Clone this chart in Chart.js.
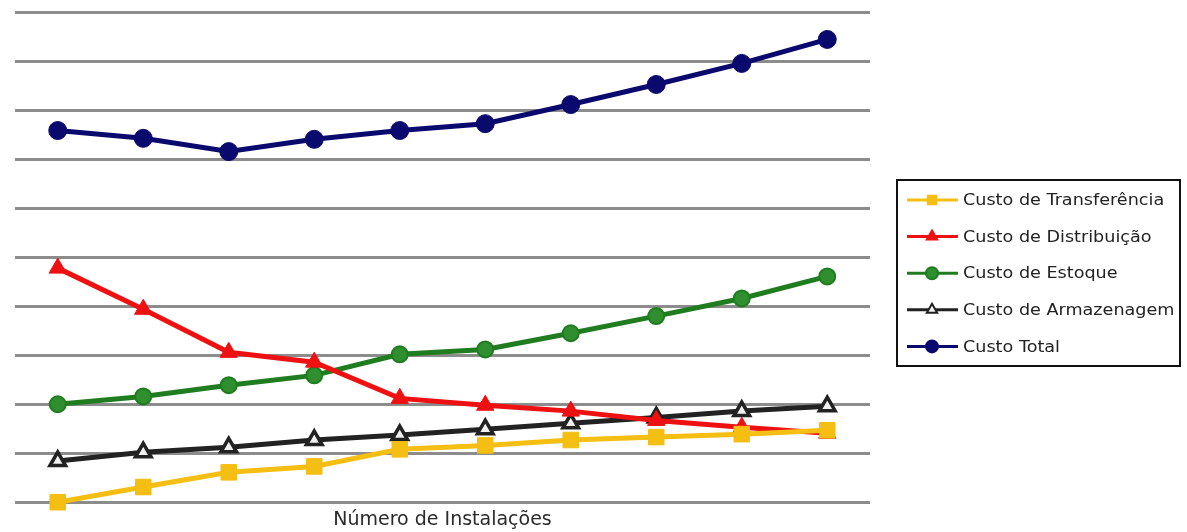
<!DOCTYPE html>
<html lang="pt">
<head>
  <meta charset="UTF-8">
  <title>Custos x Número de Instalações</title>
  <script src="https://cdn.jsdelivr.net/npm/chart.js"></script>
  <style>
    body { margin: 0; background: #fff; }
  </style>
</head>
<body>
  <div style="width: 1187px; height: 532px;">
    <canvas id="lineChart"></canvas>
  </div>

  <script>
    const instalacoes = ['1', '2', '3', '4', '5', '6', '7', '8', '9', '10'];
    const custoTransferencia = [0.0, 0.31, 0.61, 0.73, 1.08, 1.16, 1.27, 1.33, 1.39, 1.47];
    const custoDistribuicao = [4.78, 3.94, 3.06, 2.86, 2.12, 1.98, 1.86, 1.67, 1.53, 1.41];
    const custoEstoque = [2.0, 2.16, 2.39, 2.59, 3.02, 3.12, 3.45, 3.80, 4.16, 4.61];
    const custoArmazenagem = [0.84, 1.02, 1.12, 1.27, 1.37, 1.49, 1.61, 1.73, 1.86, 1.96];
    const custoTotal = [7.59, 7.43, 7.16, 7.41, 7.59, 7.73, 8.12, 8.53, 8.96, 9.45];
    const yTicks = [0, 1, 2, 3, 4, 5, 6, 7, 8, 9, 10];

    // legenda com linha + marcador, desenhada no canvas
    const legendaBox = {
      id: 'legendaBox',
      afterDraw(chart) {
        const ctx = chart.ctx;
        const x0 = 897, y0 = 180, w = 283, h = 186;
        ctx.save();
        ctx.strokeStyle = '#111';
        ctx.lineWidth = 2;
        ctx.strokeRect(x0, y0, w, h);
        chart.data.datasets.forEach((ds, i) => {
          const y = 200 + i * 36.6;
          ctx.strokeStyle = ds.borderColor;
          ctx.lineWidth = 3;
          ctx.beginPath();
          ctx.moveTo(907, y);
          ctx.lineTo(958, y);
          ctx.stroke();
          ctx.fillStyle = ds.pointBackgroundColor;
          ctx.strokeStyle = ds.pointBorderColor;
          ctx.lineWidth = 2;
          Chart.helpers.drawPoint(ctx, { pointStyle: ds.pointStyle, radius: 6, borderWidth: 2 }, 932, y);
          ctx.fillStyle = '#222';
          ctx.font = '16px "DejaVu Sans", sans-serif';
          ctx.textBaseline = 'middle';
          ctx.save();
          ctx.translate(963, y + 1);
          ctx.scale(1.1, 1);
          ctx.fillText(ds.label, 0, 0);
          ctx.restore();
        });
        ctx.restore();
      }
    };

    function serie(label, data, cor, fundo, estilo, raio, borda) {
      return {
        label: label,
        data: data,
        borderColor: cor,
        backgroundColor: cor,
        pointBackgroundColor: fundo,
        pointBorderColor: cor,
        pointBorderWidth: borda,
        pointStyle: estilo,
        pointRadius: raio,
        borderWidth: 5,
        tension: 0,
        clip: false
      };
    }

    const data = {
      labels: instalacoes,
      datasets: [
        serie('Custo de Transferência', custoTransferencia, '#f5be12', '#f5be12', 'rect', 11, 1),
        serie('Custo de Distribuição', custoDistribuicao, '#ee1111', '#ee1111', 'triangle', 10, 1),
        serie('Custo de Estoque', custoEstoque, '#1f7d1f', '#2f8f2f', 'circle', 8, 2),
        serie('Custo de Armazenagem', custoArmazenagem, '#222222', '#f0f0f0', 'triangle', 9, 3.5),
        serie('Custo Total', custoTotal, '#0a0a6e', '#0a0a6e', 'circle', 9, 1)
      ]
    };

    const config = {
      type: 'line',
      data: data,
      options: {
        responsive: true,
        maintainAspectRatio: false,
        animation: false,
        layout: { padding: { left: 15, right: 317, top: 12, bottom: 1 } },
        plugins: {
          legend: { display: false },
          tooltip: { enabled: false }
        },
        scales: {
          x: {
            offset: true,
            grid: { display: false, drawTicks: false },
            border: { display: false },
            ticks: { display: false },
            title: {
              display: true,
              text: 'Número de Instalações',
              color: '#2a2a2a',
              font: { size: 19, family: '"DejaVu Sans", sans-serif' },
              padding: { top: 6, bottom: 0 }
            }
          },
          y: {
            min: yTicks[0],
            max: yTicks[yTicks.length - 1],
            afterBuildTicks: axis => { axis.ticks = yTicks.map(v => ({ value: v })); },
            grid: { color: '#8c8c8c', lineWidth: 3, drawTicks: false },
            border: { display: false },
            ticks: { display: false }
          }
        }
      },
      plugins: [legendaBox]
    };

    new Chart(document.getElementById('lineChart'), config);
  </script>
</body>
</html>
